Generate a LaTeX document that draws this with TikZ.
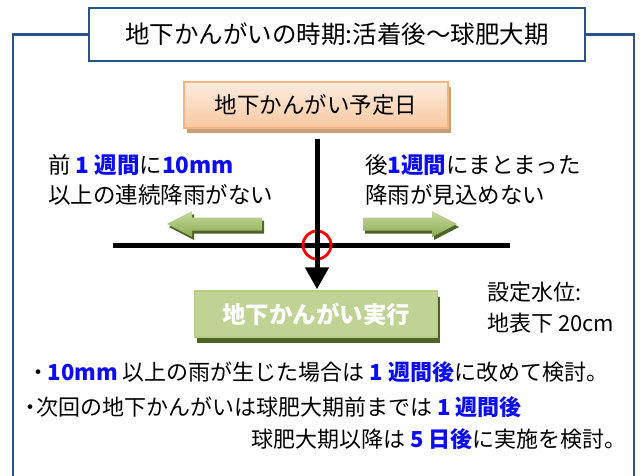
\documentclass[tikz,border=0pt]{standalone}
\usepackage{fontspec}
\setmainfont{Noto Sans CJK JP}
\usetikzlibrary{arrows.meta}
\definecolor{framec}{RGB}{42,82,140}
\definecolor{bluet}{RGB}{12,12,245}
\definecolor{orfillt}{RGB}{253,236,222}
\definecolor{orfillb}{RGB}{248,200,160}
\definecolor{ordraw}{RGB}{244,180,130}
\definecolor{orshadow}{RGB}{200,160,120}
\definecolor{grtop}{RGB}{190,211,148}
\definecolor{grmid}{RGB}{138,172,72}
\definecolor{grdraw}{RGB}{180,205,135}
\definecolor{grshadow}{RGB}{79,98,40}
\definecolor{artop}{RGB}{198,217,160}
\definecolor{arbot}{RGB}{140,172,80}
\newcommand{\bluebf}[1]{{\bfseries\color{bluet}#1}}
\newcommand{\narrowdot}{\makebox[12pt][c]{・}}
\begin{document}
\begin{tikzpicture}[x=1pt,y=-1pt,
  frameline/.style={draw=framec,line width=2.6pt},
  titlebox/.style={frameline,fill=white,minimum width=496pt,minimum height=53pt,inner sep=0pt,font=\fontsize{24.5}{28}\selectfont},
  orbox/.style={draw=ordraw,line width=1.5pt,top color=orfillt,bottom color=orfillb,minimum width=264pt,minimum height=46pt,inner sep=0pt,
    preaction={fill=orshadow,transform canvas={xshift=2.5pt,yshift=-5pt}},font=\fontsize{22.5}{26}\selectfont},
  grbox/.style={draw=grdraw,line width=1.5pt,top color=grtop,middle color=grmid,bottom color=grtop,minimum width=243pt,minimum height=46pt,inner sep=0pt,
    preaction={fill=grshadow,transform canvas={xshift=2.5pt,yshift=-6pt}},text=white,font=\bfseries\fontsize{23.5}{26}\selectfont},
  txt/.style={inner sep=0pt,anchor=west,font=\fontsize{22.5}{26}\selectfont},
  btxt/.style={inner sep=0pt,anchor=west,font=\fontsize{22}{26}\selectfont},
  blackline/.style={draw=black,line width=5pt},
  greenarrow/.style={top color=artop,bottom color=arbot,draw=none,
    preaction={fill=grshadow,transform canvas={xshift=2pt,yshift=-3pt}}}
]
\useasboundingbox (0,0) rectangle (643,475);
% outer frame and title
\node[titlebox] (title) at (337,34.5) {地下かんがいの時期:活着後～球肥大期};
\coordinate (fl) at (13,490);
\coordinate (fr) at (634,490);
\draw[frameline] (title.west) -| (fl);
\draw[frameline] (title.east) -| (fr);
% boxes
\node[orbox] (plan) at (316,105) {地下かんがい予定日};
\node[grbox] (exec) at (316,314) {地下かんがい実行};
% time line
\coordinate (hl) at (113,245);
\coordinate (hr) at (510,245);
\draw[blackline] (hl) -- (hr);
\node[circle,draw=red,line width=2.8pt,minimum size=28pt,inner sep=0pt] (mark) at (317,245) {};
\draw[blackline,shorten <=10pt,shorten >=1pt,-{Triangle[width=23pt,length=22pt]}] (plan.south -| mark) -- (exec.north -| mark);
% green arrows
\path[greenarrow] (167,224) -- (192,211) -- (192,217.5) -- (262,217.5) -- (262,230.5) -- (192,230.5) -- (192,237) -- cycle;
\path[greenarrow] (457,224) -- (432,211) -- (432,217.5) -- (363,217.5) -- (363,230.5) -- (432,230.5) -- (432,237) -- cycle;
% side texts
\node[txt] (l1) at (48,165) {前 \bluebf{1 週間}に\bluebf{10mm}};
\node[txt] (l2) at (48,195) {以上の連続降雨がない};
\node[txt] (r1) at (365,165) {後\bluebf{1週間}にまとまった};
\node[txt] (r2) at (365,195) {降雨が見込めない};
\node[btxt] (w1) at (487,292) {設定水位:};
\node[btxt] (w2) at (487,323) {地表下 20cm};
% bottom notes
\node[btxt] (n1) at (32,372) {\narrowdot\,\bluebf{10mm} 以上の雨が生じた場合は \bluebf{1 週間後}に改めて検討。};
\node[btxt] (n2) at (24,407) {\narrowdot 次回の地下かんがいは球肥大期前までは \bluebf{1 週間後}};
\node[btxt] (n3) at (251,439) {球肥大期以降は \bluebf{5 日後}に実施を検討。};
\end{tikzpicture}
\end{document}
